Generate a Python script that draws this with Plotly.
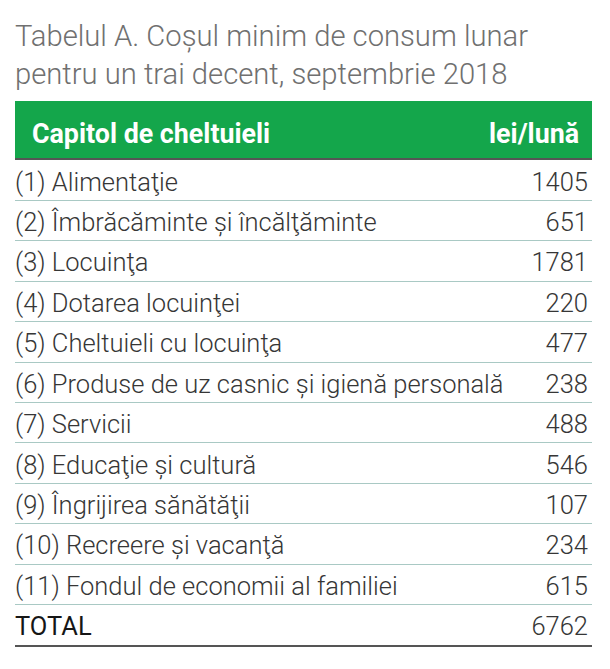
import plotly.graph_objects as go

# Datele tabelului
titlu_randuri = [
    "Tabelul A. Coșul minim de consum lunar",
    "pentru un trai decent, septembrie 2018",
]
antet_stanga = "Capitol de cheltuieli"
antet_dreapta = "lei/lună"
capitole = [
    "(1) Alimentaţie",
    "(2) Îmbrăcăminte și încălţăminte",
    "(3) Locuinţa",
    "(4) Dotarea locuinţei",
    "(5) Cheltuieli cu locuinţa",
    "(6) Produse de uz casnic și igienă personală",
    "(7) Servicii",
    "(8) Educaţie și cultură",
    "(9) Îngrijirea sănătăţii",
    "(10) Recreere și vacanţă",
    "(11) Fondul de economii al familiei",
]
valori = [1405, 651, 1781, 220, 477, 238, 488, 546, 107, 234, 615]
eticheta_total = "TOTAL"
valoare_total = 6762

# pagina are 8px margine implicita in <body>
W, H = 594, 653
top, bottom, left, right = 152, 16, 7, 10
header_px = 59
plot_h = H - top - bottom
text_drop = 0.1  # coboara textul putin in interiorul fiecarui rand


def paper_y(fy):
    # pozitie verticala (px de la marginea de sus a figurii) -> coordonate paper
    return 1 + (top - fy) / plot_h


randuri = list(range(1, len(capitole) + 1))
rand_total = len(capitole) + 1

body_font = dict(family="Roboto", size=25.5, color="#363636", weight=300)

fig = go.Figure()

fig.add_trace(go.Scatter(
    x=[0] * len(capitole), y=randuri, text=capitole,
    mode="text", textposition="middle right",
    textfont=body_font, hoverinfo="skip", cliponaxis=False,
))
fig.add_trace(go.Scatter(
    x=[1] * len(valori), y=randuri, text=[str(v) for v in valori],
    mode="text", textposition="middle left",
    textfont=body_font, hoverinfo="skip", cliponaxis=False,
))
fig.add_trace(go.Scatter(
    x=[0], y=[rand_total], text=[eticheta_total],
    mode="text", textposition="middle right",
    textfont=dict(family="Roboto", size=25.5, color="#161616", weight=400),
    hoverinfo="skip", cliponaxis=False,
))
fig.add_trace(go.Scatter(
    x=[1], y=[rand_total], text=[str(valoare_total)],
    mode="text", textposition="middle left",
    textfont=body_font, hoverinfo="skip", cliponaxis=False,
))

# antet verde deasupra zonei de date
fig.add_shape(type="rect", xref="paper", yref="paper",
              x0=0, x1=1, y0=1, y1=1 + header_px / plot_h,
              fillcolor="#14a64b", line_width=0, layer="below")
header_font = dict(family="Roboto", size=26.8, color="white", weight=700)
fig.add_annotation(x=0, y=1 + header_px / plot_h / 2, xref="paper", yref="paper",
                   text=antet_stanga, showarrow=False,
                   xanchor="left", yanchor="middle",
                   xshift=15, yshift=-3, font=header_font)
fig.add_annotation(x=1, y=1 + header_px / plot_h / 2, xref="paper", yref="paper",
                   text=antet_dreapta, showarrow=False,
                   xanchor="right", yanchor="middle",
                   xshift=-11, yshift=-3, font=header_font)

# titlul, cate o linie
title_font = dict(family="Roboto", size=29.2, color="#707070", weight=300)
for i, linie in enumerate(titlu_randuri):
    fig.add_annotation(x=0, y=paper_y(9 + 38 * i), xref="paper", yref="paper",
                       text=linie, showarrow=False, align="left",
                       xanchor="left", yanchor="top", xshift=-2,
                       font=title_font)

fig.update_layout(
    width=W, height=H,
    margin=dict(t=top, b=bottom, l=left, r=right),
    paper_bgcolor="white", plot_bgcolor="white",
    showlegend=False,
    xaxis=dict(range=[0, 1.007], showgrid=False, zeroline=False,
               showticklabels=False, ticks="",
               showline=True, mirror=True, linecolor="#555555", linewidth=1.5),
    yaxis=dict(range=[rand_total + 0.5 - text_drop, 0.5 - text_drop], showgrid=True,
               tickvals=[r + 0.5 - text_drop for r in randuri],
               gridcolor="#a9c9c4", gridwidth=1,
               zeroline=False, showticklabels=False, ticks="", showline=False),
)

fig.write_html("out.html")
